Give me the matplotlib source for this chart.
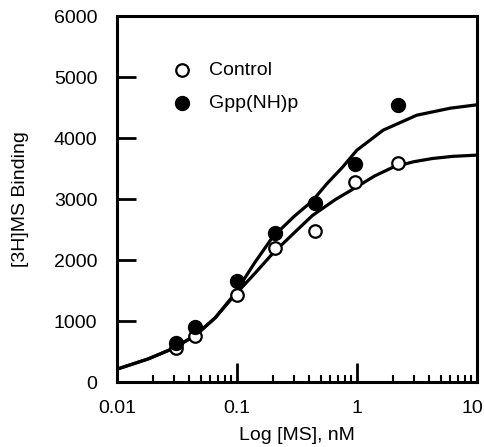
import matplotlib
matplotlib.use("Agg")
import matplotlib.pyplot as plt
import matplotlib.transforms as mtransforms
import numpy as np

# Measured points
conc = [0.031, 0.045, 0.1, 0.21, 0.45, 0.96, 2.2]
control = [560, 760, 1420, 2200, 2480, 3280, 3590]
gppnhp = [640, 905, 1650, 2440, 2930, 3580, 4550]

# Fitted curves (log10 concentration vs binding)
control_fit_logx = [-2.0, -1.74, -1.54, -1.35, -1.18, -1.02, -0.85, -0.70, -0.52, -0.37, -0.18, 0.0, 0.15, 0.30, 0.47, 0.63, 0.80, 1.0]
control_fit_y = [210, 378, 543, 757, 1053, 1420, 1780, 2110, 2450, 2730, 2990, 3200, 3380, 3520, 3610, 3665, 3700, 3720]
gpp_fit_logx = [-2.0, -1.74, -1.54, -1.35, -1.18, -1.02, -0.85, -0.70, -0.52, -0.37, -0.25, -0.12, 0.0, 0.22, 0.50, 0.78, 1.0]
gpp_fit_y = [210, 378, 543, 757, 1053, 1440, 1960, 2380, 2720, 2970, 3250, 3520, 3800, 4130, 4375, 4490, 4545]

plt.rcParams['font.family'] = ['Liberation Sans', 'DejaVu Sans']
plt.rcParams['font.size'] = 14

fig = plt.figure(figsize=(4.85, 4.47), dpi=100)
ax = fig.add_axes([0.241, 0.1454, 0.742, 0.8186])

ax.plot(10 ** np.array(control_fit_logx), control_fit_y, color='black', lw=2.3)
ax.plot(10 ** np.array(gpp_fit_logx), gpp_fit_y, color='black', lw=2.3)

ax.plot(conc, control, 'o', mfc='white', mec='black', mew=1.6, ms=9, zorder=3)
ax.plot(conc, gppnhp, 'o', mfc='black', mec='black', ms=10, zorder=4)

# Legend drawn as markers + text in axes coordinates
ax.plot([0.18], [0.852], 'o', mfc='white', mec='black', mew=1.6, ms=9,
        transform=ax.transAxes, clip_on=False)
ax.text(0.255, 0.852, 'Control', transform=ax.transAxes, va='center', ha='left')
ax.plot([0.18], [0.762], 'o', mfc='black', mec='black', ms=10,
        transform=ax.transAxes, clip_on=False)
ax.text(0.255, 0.762, 'Gpp(NH)p', transform=ax.transAxes, va='center', ha='left')

ax.set_xscale('log')
ax.set_xlim(0.01, 10)
ax.set_ylim(0, 6000)
ax.set_yticks([0, 1000, 2000, 3000, 4000, 5000, 6000])
ax.set_xticks([0.01, 0.1, 1, 10])
ax.set_xticklabels(['0.01', '0.1', '1', '10'])

ax.tick_params(axis='both', which='major', direction='in', length=14, width=2,
               top=False, right=False)
ax.tick_params(axis='y', pad=14)
ax.tick_params(axis='x', pad=13)
ax.tick_params(axis='x', which='minor', direction='in', length=5, width=1.5, top=False)

# nudge the last x label so it stays inside the figure
last = ax.get_xticklabels()[-1]
last.set_transform(last.get_transform() +
                   mtransforms.ScaledTranslation(-3 / 72, 0, fig.dpi_scale_trans))

for s in ax.spines.values():
    s.set_linewidth(2.2)

ax.set_xlabel('Log [MS], nM', labelpad=7)
ax.set_ylabel('[3H]MS Binding', labelpad=18)

fig.savefig('out.png', dpi=100)
